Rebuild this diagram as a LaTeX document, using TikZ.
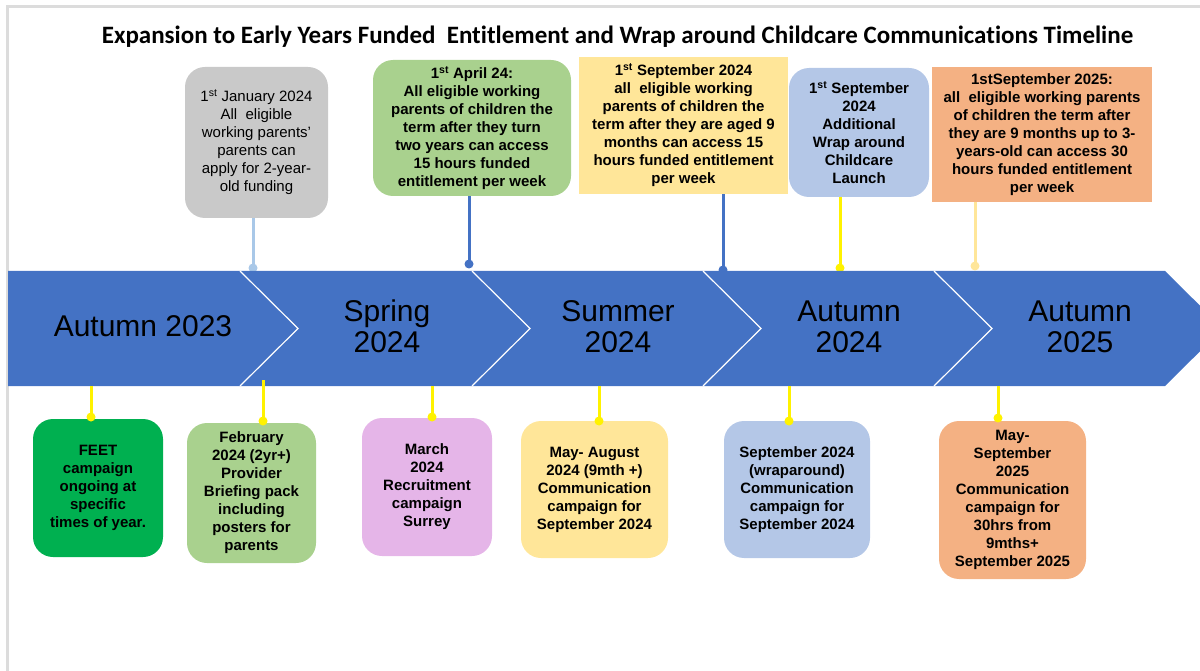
\documentclass[tikz,border=0pt]{standalone}
\usepackage{fontspec}
\setmainfont{Liberation Sans}
\newfontfamily\headfont[Ligatures=NoCommon]{Carlito}
\usetikzlibrary{shapes.geometric, arrows, positioning}
\definecolor{bandblue}{HTML}{4472C4}
\definecolor{greybox}{HTML}{C9C9C9}
\definecolor{leafgreen}{HTML}{A9D18E}
\definecolor{feetgreen}{HTML}{00B050}
\definecolor{paleyellow}{HTML}{FFE699}
\definecolor{paleblue}{HTML}{B4C7E7}
\definecolor{peach}{HTML}{F4B183}
\definecolor{lilac}{HTML}{E5B5E8}
\definecolor{skyline}{HTML}{A9C8E8}
\definecolor{frame}{HTML}{DCDCDC}
\tikzstyle{box} = [align=center, inner sep=0pt, text=black, font=\bfseries\fontsize{15}{18}\selectfont]
\tikzstyle{roundbox} = [box, rounded corners=20pt]
\tikzstyle{season} = [align=center, text=black, font=\fontsize{30}{31}\selectfont]
\tikzstyle{stem} = [line width=3pt]
\tikzset{boxsize/.style 2 args={minimum width=#1pt, minimum height=#2pt}}

\begin{document}
\begin{tikzpicture}[x=1pt, y=-1pt]
    \useasboundingbox (0,0) rectangle (1200,671);
    \clip (0,0) rectangle (1200,671);
    % page frame
    \draw[frame, line width=3pt] (7,671) -- (7,7) -- (1200,7);

    % boxes above the timeline
    \node[roundbox, fill=greybox, boxsize={143}{151}, font=\fontsize{15}{18}\selectfont] (jan) at (256.5,142.5)
        {1\textsuperscript{st} January 2024\\All\ \ eligible\\working parents'\\parents can\\apply for 2-year-\\old funding};
    \node[roundbox, fill=leafgreen, boxsize={198}{136}] (apr) at (472,128)
        {1\textsuperscript{st} April 24:\\All eligible working\\parents of children the\\term after they turn\\two years can access\\15 hours funded\\entitlement per week};
    \node[box, fill=paleyellow, boxsize={209}{137}] (sep24) at (683.5,125.5)
        {1\textsuperscript{st} September 2024\\all\ \ eligible working\\parents of children the\\term after they are aged 9\\months can access 15\\hours funded entitlement\\per week};
    \node[roundbox, fill=paleblue, boxsize={140}{129}] (wrap) at (859,132.5)
        {1\textsuperscript{st} September\\2024\\Additional\\Wrap around\\Childcare\\Launch};
    \node[box, fill=peach, boxsize={220}{135}] (sep25) at (1042,134.5)
        {1stSeptember 2025:\\all\ \ eligible working parents\\of children the term after\\they are 9 months up to 3-\\years-old can access 30\\hours funded entitlement\\per week};

    % stems from the upper boxes
    \coordinate (t1) at (253,268);
    \coordinate (t2) at (469,264);
    \coordinate (t3) at (723,270);
    \coordinate (t4) at (840,268);
    \coordinate (t5) at (975,266);
    \draw[stem, skyline] (t1) -- (t1 |- jan.south);
    \fill[skyline] (t1) circle (4.5pt);
    \draw[stem, bandblue] (t2) -- (t2 |- apr.south);
    \fill[bandblue] (t2) circle (4.5pt);
    \draw[stem, bandblue] (t3) -- (t3 |- sep24.south);
    \fill[bandblue] (t3) circle (4.5pt);
    \draw[stem, yellow] (t4) -- (t4 |- wrap.south);
    \fill[yellow] (t4) circle (4.5pt);
    \draw[stem, paleyellow] (t5) -- (t5 |- sep25.south);
    \fill[paleyellow] (t5) circle (4.5pt);

    % the timeline band
    \fill[bandblue] (8,271) -- (1165,271) -- (1223,328.5) -- (1165,386) -- (8,386) -- cycle;
    \foreach \x in {240,472,703,934}
        \draw[white, line width=1.2pt] (\x,271) -- (\x+58,328.5) -- (\x,386);
    \coordinate (bandbot) at (0,386);

    \node[season] (aut23) at (143,326) {Autumn 2023};
    \node[season] (spr24) at (387,326.5) {Spring\\2024};
    \node[season] (sum24) at (618,326.5) {Summer\\2024};
    \node[season] (aut24) at (849,326.5) {Autumn\\2024};
    \node[season] (aut25) at (1080,326.5) {Autumn\\2025};

    % boxes below the timeline
    \node[roundbox, fill=feetgreen, boxsize={130}{138}] (feet) at (98,488)
        {FEET\\campaign\\ongoing at\\specific\\times of year.};
    \node[roundbox, fill=leafgreen, boxsize={129}{140}] (feb) at (251.5,493)
        {February\\2024 (2yr+)\\Provider\\Briefing pack\\including\\posters for\\parents};
    \node[roundbox, fill=lilac, boxsize={130}{138}] (mar) at (427,487)
        {March\\2024\\Recruitment\\campaign\\Surrey};
    \node[roundbox, fill=paleyellow, boxsize={147}{137}] (mayaug) at (594.5,489.5)
        {May- August\\2024 (9mth +)\\Communication\\campaign for\\September 2024};
    \node[roundbox, fill=paleblue, boxsize={146}{137}] (wrapcomms) at (797,489.5)
        {September 2024\\(wraparound)\\Communication\\campaign for\\September 2024};
    \node[roundbox, fill=peach, boxsize={147}{158}] (maysep) at (1012.5,500)
        {May-\\September\\2025\\Communication\\campaign for\\30hrs from\\9mths+\\September 2025};

    % stems down to the lower boxes
    \coordinate (b1) at (91,417);
    \coordinate (b2) at (263,421);
    \coordinate (b3) at (432,417);
    \coordinate (b4) at (599,421);
    \coordinate (b5) at (789,421);
    \coordinate (b6) at (998,418);
    \draw[stem, yellow] (b2 |- 0,380) -- (b2);
    \fill[yellow] (b2) circle (4.5pt);
    \foreach \b in {b1,b3,b4,b5,b6} {
        \draw[stem, yellow] (\b |- bandbot) -- (\b);
        \fill[yellow] (\b) circle (4.5pt);
    }

    \node[font=\headfont\bfseries\fontsize{25}{28}\selectfont] (title) at (617.5,37)
        {Expansion to Early Years Funded\ \ Entitlement and Wrap around Childcare Communications Timeline};
\end{tikzpicture}
\end{document}
